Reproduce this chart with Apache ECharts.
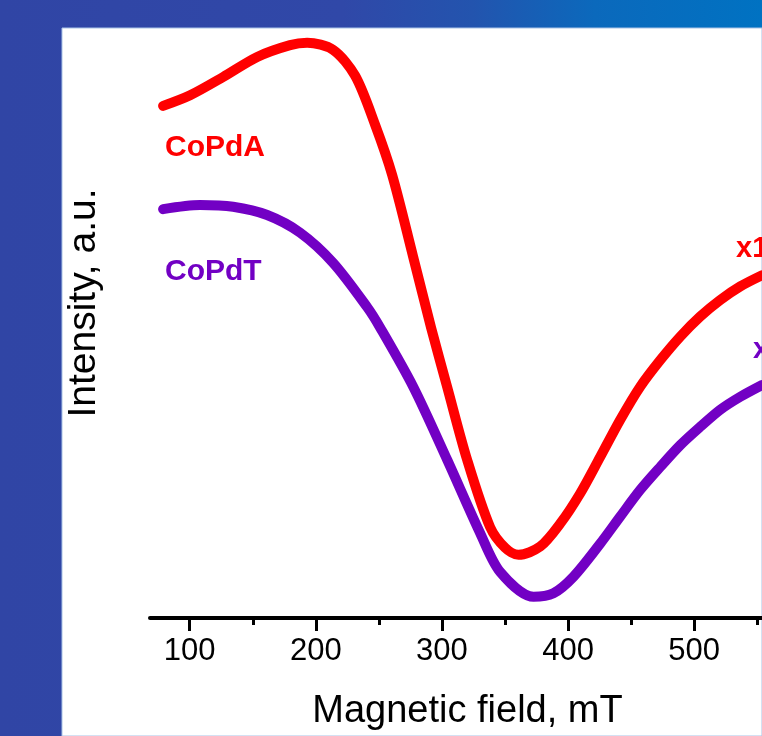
<!DOCTYPE html>
<html>
<head>
<meta charset="utf-8">
<script src="https://cdn.jsdelivr.net/npm/echarts@6/dist/echarts.min.js"></script>
<style>html,body{margin:0;padding:0;}#c{width:762px;height:736px;}</style>
</head>
<body>
<div id="c"></div>
<script>
// Magnetic field (mT) and intensity (a.u.)
const fieldA = [78.9, 100.3, 126.5, 153.5, 179.6, 193.1, 213.7, 231.2, 247.0, 260.5, 277.2, 291.4, 304.1, 320.0, 338.2, 350.1, 360.7, 377.9, 393.8, 409.6, 425.5, 441.4, 457.2, 473.1, 489.0, 504.8, 520.7, 536.6, 553.9];
const intensityA = [86.8, 88.6, 91.7, 95.1, 97.1, 97.5, 96.3, 91.9, 83.6, 75.1, 61.2, 49.2, 39.2, 26.8, 15.4, 11.9, 10.7, 12.1, 16.0, 21.1, 27.3, 33.6, 39.2, 43.7, 47.7, 51.1, 53.9, 56.2, 58.1];
const fieldT = [78.9, 108.2, 134.4, 161.4, 187.6, 213.7, 240.7, 250.8, 277.2, 304.2, 330.3, 346.2, 372.6, 388.4, 404.3, 425.5, 441.4, 457.2, 473.1, 489.0, 504.8, 520.7, 536.6, 553.9];
const intensityT = [69.3, 70.0, 69.7, 68.3, 65.3, 60.2, 52.7, 49.3, 39.2, 26.8, 14.4, 7.8, 3.6, 4.2, 7.0, 12.6, 17.2, 21.7, 25.6, 29.3, 32.4, 35.3, 37.5, 39.5];
const majorTicks = [100, 200, 300, 400, 500];
const minorTicks = [150, 250, 350, 450, 550];
const seriesNames = ['CoPdA', 'CoPdT'];
const scaleLabels = ['x10', 'x10'];

const FONT = '"Liberation Sans", Arial, Helvetica, sans-serif';
const RED = '#ff0000';
const PURPLE = '#7200c4';

const zip = (xs, ys) => xs.map((x, i) => [x, ys[i]]);

const chart = echarts.init(document.getElementById('c'), null, {renderer: 'canvas'});
const xMin = 68.5, xMax = 553.8;
chart.setOption({
  animation: false,
  backgroundColor: '#ffffff',
  graphic: [
    {type: 'rect', z: -100, silent: true, shape: {x: 0, y: 0, width: 762, height: 736},
     style: {fill: new echarts.graphic.LinearGradient(0, 0, 1, 0, [
       {offset: 0, color: '#3045a5'},
       {offset: 0.45, color: '#3048a8'},
       {offset: 0.62, color: '#2354ae'},
       {offset: 0.78, color: '#0b69bc'},
       {offset: 1, color: '#0072c2'}
     ])}},
    {type: 'rect', z: -99, silent: true, shape: {x: 62, y: 28, width: 700, height: 708},
     style: {fill: '#ffffff', stroke: '#a9c3e6', lineWidth: 1}},
    {type: 'text', z: 10, left: 165, top: 133, style: {text: seriesNames[0], fill: RED, font: 'bold 30px ' + FONT}},
    {type: 'text', z: 10, left: 165, top: 257, style: {text: seriesNames[1], fill: PURPLE, font: 'bold 30px ' + FONT}},
    {type: 'text', z: 10, left: 736, top: 234, style: {text: scaleLabels[0], fill: RED, font: 'bold 29px ' + FONT}},
    {type: 'text', z: 10, left: 753, top: 335, style: {text: scaleLabels[1], fill: PURPLE, font: 'bold 29px ' + FONT}}
  ],
  grid: {left: 150, right: 0, top: 28, bottom: 118, containLabel: false},
  xAxis: [
    {
      type: 'value', min: xMin, max: xMax, position: 'bottom',
      name: 'Magnetic field, mT', nameLocation: 'middle', nameGap: 75,
      nameTextStyle: {fontSize: 38, fontFamily: FONT, color: '#000', padding: [0, 0, 0, 23]},
      axisLine: {show: true, lineStyle: {color: '#000', width: 4}},
      axisTick: {show: true, customValues: majorTicks, length: 13, lineStyle: {color: '#000', width: 3}},
      axisLabel: {show: true, customValues: majorTicks, margin: 18, fontSize: 31, fontFamily: FONT, color: '#000'},
      splitLine: {show: false}
    },
    {
      type: 'value', min: xMin, max: xMax, position: 'bottom', offset: 0,
      axisLine: {show: false},
      axisTick: {show: true, customValues: minorTicks, length: 7, lineStyle: {color: '#000', width: 3}},
      axisLabel: {show: false},
      splitLine: {show: false}
    }
  ],
  yAxis: {
    type: 'value', min: 0, max: 100,
    name: 'Intensity, a.u.', nameLocation: 'middle', nameGap: 46,
    nameTextStyle: {fontSize: 39, fontFamily: FONT, color: '#000', padding: [0, 0, 0, 40]},
    axisLine: {show: false}, axisTick: {show: false}, axisLabel: {show: false}, splitLine: {show: false}
  },
  series: [
    {name: seriesNames[0], type: 'line', xAxisIndex: 0, data: zip(fieldA, intensityA), smooth: 0.3,
     showSymbol: false, lineStyle: {color: RED, width: 10, cap: 'round', join: 'round'}},
    {name: seriesNames[1], type: 'line', xAxisIndex: 0, data: zip(fieldT, intensityT), smooth: 0.3,
     showSymbol: false, lineStyle: {color: PURPLE, width: 10, cap: 'round', join: 'round'}}
  ]
});
</script>
</body>
</html>
